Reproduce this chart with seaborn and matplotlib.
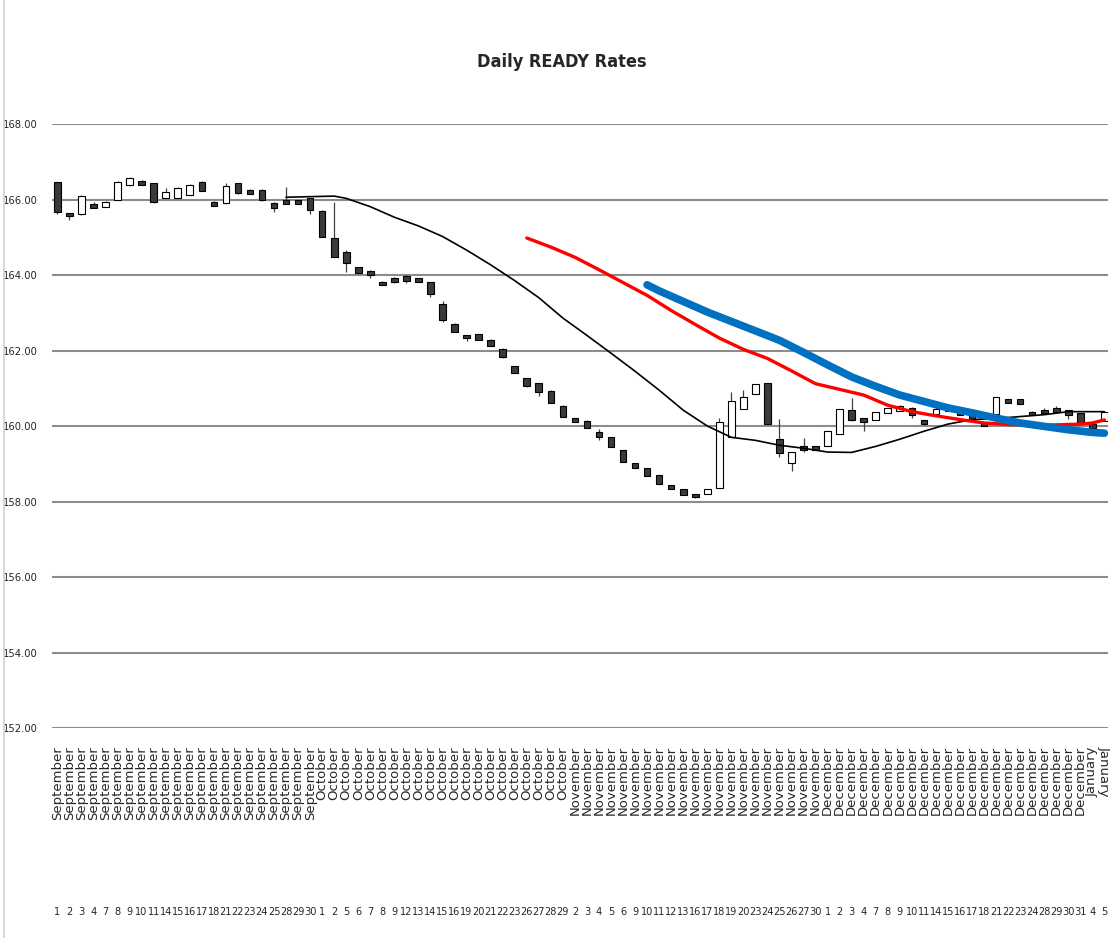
import pandas as pd
import seaborn as sns
import matplotlib.pyplot as plt
from matplotlib.lines import Line2D

# trading days per month
sep_days = [1, 2, 3, 4, 7, 8, 9, 10, 11, 14, 15, 16, 17, 18, 21, 22, 23, 24, 25, 28, 29, 30]
oct_days = [1, 2, 5, 6, 7, 8, 9, 12, 13, 14, 15, 16, 19, 20, 21, 22, 23, 26, 27, 28, 29]
nov_days = [2, 3, 4, 5, 6, 9, 10, 11, 12, 13, 16, 17, 18, 19, 20, 23, 24, 25, 26, 27, 30]
dec_days = [1, 2, 3, 4, 7, 8, 9, 10, 11, 14, 15, 16, 17, 18, 21, 22, 23, 24, 28, 29, 30, 31]
jan_days = [4, 5]

opens = [166.47, 165.65, 165.62, 165.88, 165.79, 166.00, 166.38, 166.49, 166.43, 166.05,
         166.05, 166.12, 166.47, 165.93, 165.90, 166.43, 166.25, 166.25, 165.92, 165.99,
         165.99, 166.03, 165.70, 164.97, 164.62, 164.20, 164.11, 163.82, 163.93, 163.98,
         163.93, 163.81, 163.22, 162.70, 162.42, 162.43, 162.28, 162.04, 161.60, 161.26,
         161.15, 160.93, 160.54, 160.20, 160.14, 159.85, 159.70, 159.36, 159.03, 158.88,
         158.70, 158.44, 158.32, 158.21, 158.19, 158.35, 159.72, 160.45, 160.85, 161.15,
         159.65, 159.01, 159.47, 159.47, 159.47, 159.79, 160.42, 160.22, 160.17, 160.34,
         160.40, 160.48, 160.16, 160.33, 160.40, 160.40, 160.28, 160.09, 160.33, 160.71,
         160.71, 160.37, 160.42, 160.48, 160.42, 160.35, 160.06, 160.13]
closes = [165.68, 165.56, 166.10, 165.78, 165.93, 166.47, 166.58, 166.38, 165.94, 166.21,
          166.31, 166.38, 166.23, 165.84, 166.36, 166.16, 166.15, 165.99, 165.77, 165.88,
          165.88, 165.72, 165.00, 164.48, 164.33, 164.04, 164.00, 163.73, 163.82, 163.83,
          163.82, 163.50, 162.81, 162.50, 162.32, 162.28, 162.12, 161.84, 161.40, 161.06,
          160.89, 160.62, 160.25, 160.11, 159.95, 159.72, 159.45, 159.05, 158.90, 158.68,
          158.46, 158.34, 158.17, 158.13, 158.32, 160.11, 160.65, 160.76, 161.10, 160.05,
          159.29, 159.30, 159.36, 159.36, 159.87, 160.46, 160.16, 160.11, 160.37, 160.48,
          160.52, 160.28, 160.05, 160.46, 160.52, 160.30, 160.15, 160.00, 160.76, 160.62,
          160.58, 160.28, 160.34, 160.37, 160.28, 160.09, 159.95, 160.37]
highs = [166.47, 165.65, 166.12, 165.94, 165.95, 166.48, 166.60, 166.52, 166.45, 166.30,
         166.32, 166.42, 166.48, 165.95, 166.45, 166.45, 166.27, 166.27, 165.94, 166.34,
         165.99, 166.05, 165.72, 165.94, 164.66, 164.22, 164.12, 163.84, 163.95, 164.00,
         163.93, 163.82, 163.30, 162.72, 162.42, 162.44, 162.30, 162.06, 161.60, 161.28,
         161.15, 160.95, 160.55, 160.20, 160.15, 159.92, 159.70, 159.36, 159.03, 158.88,
         158.70, 158.44, 158.32, 158.21, 158.32, 160.20, 160.91, 160.95, 161.10, 161.15,
         160.18, 159.30, 159.68, 159.48, 159.87, 160.46, 160.73, 160.22, 160.37, 160.48,
         160.55, 160.50, 160.16, 160.55, 160.55, 160.42, 160.28, 160.09, 160.76, 160.71,
         160.71, 160.40, 160.47, 160.52, 160.42, 160.35, 160.06, 160.37]
lows = [165.62, 165.47, 165.60, 165.78, 165.79, 166.00, 166.35, 166.38, 165.92, 166.05,
        166.04, 166.12, 166.23, 165.84, 165.88, 166.15, 166.15, 165.96, 165.68, 165.88,
        165.88, 165.62, 165.00, 164.48, 164.09, 164.04, 163.91, 163.73, 163.80, 163.80,
        163.82, 163.42, 162.75, 162.48, 162.25, 162.28, 162.12, 161.80, 161.40, 161.04,
        160.80, 160.62, 160.25, 160.11, 159.95, 159.64, 159.45, 159.05, 158.90, 158.68,
        158.46, 158.34, 158.17, 158.10, 158.19, 158.35, 159.72, 160.45, 160.85, 160.05,
        159.19, 158.82, 159.30, 159.36, 159.47, 159.79, 160.14, 159.87, 160.17, 160.34,
        160.40, 160.22, 160.05, 160.33, 160.40, 160.28, 160.15, 160.00, 160.33, 160.62,
        160.58, 160.28, 160.34, 160.37, 160.18, 160.09, 159.95, 160.13]

# moving average lines, read at selected trading days (index into the day list)
black_idx = [19, 23, 24, 26, 28, 30, 32, 34, 36, 38, 40, 42, 44, 46, 48, 50, 52,
             54, 56, 58, 60, 62, 64, 66, 68, 70, 72, 74, 76, 78, 80, 82, 84, 87]
black_val = [166.06, 166.09, 166.03, 165.81, 165.53, 165.30, 165.02, 164.66, 164.27,
             163.85, 163.40, 162.86, 162.40, 161.93, 161.45, 160.95, 160.42, 160.00,
             159.70, 159.62, 159.49, 159.41, 159.31, 159.30, 159.46, 159.65, 159.86,
             160.05, 160.17, 160.20, 160.25, 160.30, 160.38, 160.38]
red_idx = [39, 41, 43, 45, 47, 49, 51, 53, 55, 57, 59, 61, 63, 65, 67, 69, 71, 73,
           75, 77, 79, 81, 83, 85, 86, 87]
red_val = [164.98, 164.74, 164.47, 164.14, 163.80, 163.46, 163.06, 162.69, 162.33,
           162.03, 161.79, 161.46, 161.12, 160.97, 160.82, 160.55, 160.38, 160.27,
           160.17, 160.08, 160.04, 160.02, 160.03, 160.05, 160.08, 160.16]
blue_idx = [49, 50, 52, 54, 56, 58, 60, 62, 64, 66, 68, 70, 72, 74, 76, 78, 80, 82,
            84, 86, 87]
blue_val = [163.74, 163.58, 163.30, 163.02, 162.77, 162.52, 162.27, 161.95, 161.62,
            161.30, 161.05, 160.82, 160.65, 160.48, 160.35, 160.21, 160.08, 159.99,
            159.90, 159.83, 159.81]

y_ticks = [152, 154, 156, 158, 160, 162, 164, 166, 168]

sns.set_theme(style="white")
plt.rcParams['font.family'] = ['DejaVu Sans']
cond = dict(family=['DejaVu Sans'], stretch='condensed')

months = (['September'] * len(sep_days) + ['October'] * len(oct_days) +
          ['November'] * len(nov_days) + ['December'] * len(dec_days) +
          ['January'] * len(jan_days))
days = sep_days + oct_days + nov_days + dec_days + jan_days

df = pd.DataFrame({'month': months, 'day': days, 'open': opens,
                   'high': highs, 'low': lows, 'close': closes})
df['pos'] = range(len(df))
df['up'] = df['close'] >= df['open']

fig = plt.figure(figsize=(11.11, 9.38), dpi=100)
ax = fig.add_axes([52 / 1111, 1 - 728 / 938, 1056 / 1111, 604 / 938])

# grid
for v in y_ticks:
    ax.axhline(v, color='#8c8c8c', lw=1.5, zorder=0)

# candles
ax.vlines(df['pos'], df['low'], df['high'], color='#404040', lw=0.9, zorder=2)
body_lo = df[['open', 'close']].min(axis=1)
body_h = (df['close'] - df['open']).abs()
face = ['white' if u else '#3a3a3a' for u in df['up']]
ax.bar(df['pos'], body_h, bottom=body_lo, width=0.55, color=face,
       edgecolor='black', linewidth=0.8, zorder=3)

# moving averages
sns.lineplot(x=black_idx, y=black_val, ax=ax, color='black', lw=1.2, zorder=4)
sns.lineplot(x=red_idx, y=red_val, ax=ax, color='#ff0000', lw=2.4, zorder=5)
sns.lineplot(x=blue_idx, y=blue_val, ax=ax, color='#0070c0', lw=5.5, zorder=6,
             solid_capstyle='round')

ax.set_xlim(-0.45, 87.3)
ax.set_ylim(152, 168)
ax.set_yticks(y_ticks)
ax.set_yticklabels([f'{v:.2f}' for v in y_ticks], fontsize=8, **cond)
ax.tick_params(axis='y', length=0, pad=10)

ax.set_xticks(df['pos'])
ax.set_xticklabels(df['month'], rotation=90, fontsize=9.5, va='top', ha='center')
ax.tick_params(axis='x', length=0, pad=13)
ax.get_xticklabels()[-1].set_rotation(270)

for p, d in zip(df['pos'], df['day']):
    ax.text(p, -0.305, str(d), transform=ax.get_xaxis_transform(),
            ha='center', va='center', fontsize=7.8, **cond)

for s in ax.spines.values():
    s.set_visible(False)

fig.text(562 / 1111, 1 - 62 / 938, 'Daily READY Rates', ha='center', va='center',
         fontsize=13, fontweight='bold', **cond)
fig.add_artist(Line2D([0.004, 0.004], [0, 1], color='#d0d0d0', lw=1.2))

fig.savefig('out.png', dpi=100)
